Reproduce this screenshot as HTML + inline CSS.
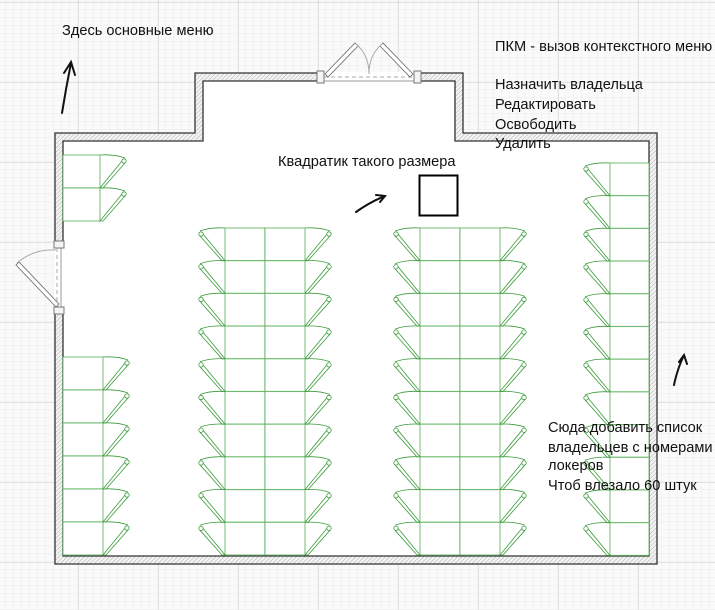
<!DOCTYPE html>
<html><head><meta charset="utf-8"><style>
html,body{margin:0;padding:0;background:#fff}
svg{display:block}
text{font-family:"Liberation Sans","DejaVu Sans",sans-serif;font-size:14.6px;fill:#111}
</style></head><body>
<svg id="plan" width="715" height="610" viewBox="0 0 715 610" xmlns="http://www.w3.org/2000/svg">
<defs>
<pattern id="minor" width="8" height="8" patternUnits="userSpaceOnUse" x="6" y="2"><path d="M8 0V8M0 8H8" stroke="#ececec" stroke-width="1" fill="none"/></pattern>
<pattern id="major" width="80" height="80" patternUnits="userSpaceOnUse" x="78" y="2"><path d="M0 0V80M0 0H80" stroke="#dadada" stroke-width="1.5" fill="none"/></pattern>
<pattern id="hatch" width="3" height="3" patternUnits="userSpaceOnUse" patternTransform="rotate(45)"><rect width="3" height="3" fill="#f4f4f4"/><path d="M0 0V3" stroke="#a5a5a5" stroke-width="0.9"/></pattern>
</defs>
<rect width="715" height="610" fill="#fafafa"/>
<rect width="715" height="610" fill="url(#minor)"/>
<rect width="715" height="610" fill="url(#major)"/>
<path d="M63 141H203V81H455V141H649V556H63Z" fill="#fff"/>
<path fill-rule="evenodd" fill="url(#hatch)" stroke="#333" stroke-width="1.3"
 d="M55 133H195V73H463V133H657V564H55Z M63 141H203V81H455V141H649V556H63Z"/>
<g id="lockers"></g>
<g>
<rect x="322" y="72" width="94" height="11" fill="#fff"/>
<line x1="324" y1="77" x2="414" y2="77" stroke="#aaa" stroke-dasharray="4 3"/>
<line x1="324" y1="81" x2="414" y2="81" stroke="#999"/>
<rect x="317" y="71" width="7" height="12" fill="#f4f4f4" stroke="#777"/>
<rect x="414" y="71" width="7" height="12" fill="#f4f4f4" stroke="#777"/>
<path d="M325 74L355 43L358 46L328 77Z" fill="#fff" stroke="#666" stroke-width="0.8"/>
<path d="M413 74L383 43L380 46L410 77Z" fill="#fff" stroke="#666" stroke-width="0.8"/>
<path d="M356 44Q369 55 369 74" fill="none" stroke="#aaa"/>
<path d="M382 44Q369 55 369 74" fill="none" stroke="#aaa"/>
</g>
<g>
<rect x="54" y="246" width="10" height="64" fill="#fff"/>
<line x1="57" y1="248" x2="57" y2="308" stroke="#aaa" stroke-dasharray="4 3"/>
<line x1="61" y1="248" x2="61" y2="308" stroke="#999"/>
<rect x="54" y="241" width="10" height="7" fill="#f4f4f4" stroke="#777"/>
<rect x="54" y="307" width="10" height="7" fill="#f4f4f4" stroke="#777"/>
<path d="M56 307L16 265L19 262L59 304Z" fill="#fff" stroke="#666" stroke-width="0.8"/>
<path d="M17 263Q33 249 56 250" fill="none" stroke="#aaa"/>
</g>
<rect x="419.5" y="175.5" width="38" height="40" fill="#fff" stroke="#000" stroke-width="2"/>
<g fill="none" stroke="#111" stroke-width="2" stroke-linecap="round">
<path d="M62 113Q66 88 71 63M64 73L71 62L75 75"/>
<path d="M356 212Q370 202 385 196M376 195L385 196L380 202"/>
<path d="M674 385Q677 370 684 355M679 362L684 355L687 364"/>
</g>
<text x="62" y="35">Здесь основные меню</text>
<text x="495" y="51">ПКМ - вызов контекстного меню</text>
<text x="495" y="89">Назначить владельца</text>
<text x="495" y="109">Редактировать</text>
<text x="495" y="129">Освободить</text>
<text x="495" y="148">Удалить</text>
<text x="278" y="166">Квадратик такого размера</text>
<text x="548" y="432">Сюда добавить список</text>
<text x="548" y="452">владельцев с номерами</text>
<text x="548" y="470">локеров</text>
<text x="548" y="490">Чтоб влезало 60 штук</text>
</svg>
<script>
const groupX = [63, 63, 225, 420, 610];
const groupW = [37, 40, 40, 40, 39];
const groupCols = [1, 1, 2, 2, 1];
const groupTop = [155, 357, 228, 228, 163];
const groupRows = [2, 6, 10, 10, 12];
const groupRowH = [33, 33, 32.7, 32.7, 32.7];
const groupDoorL = [false, false, true, true, true];
const groupDoorR = [true, true, true, true, false];
const NS = 'http://www.w3.org/2000/svg';
const g = document.getElementById('lockers');
function mk(tag, attrs, parent) {
  const e = document.createElementNS(NS, tag);
  for (const k in attrs) e.setAttribute(k, attrs[k]);
  parent.appendChild(e); return e;
}
function door(x, y, y2, dir, parent) {
  const tipX = x + dir * 22, tipY = y + 6;
  mk('path', {d: `M${x} ${y2}L${tipX} ${tipY}L${tipX + dir*3} ${tipY + 2}L${x + dir*3} ${y2}Z`, fill: '#fff', stroke: '#3a9a3a', 'stroke-width': 0.8}, parent);
  mk('circle', {cx: tipX + dir*2, cy: tipY, r: 2.2, fill: '#fff', stroke: '#3a9a3a', 'stroke-width': 0.8}, parent);
  mk('path', {d: `M${x} ${y}Q${x + dir*14} ${y - 1} ${x + dir*25} ${y + 3}`, fill: 'none', stroke: '#3a9a3a', 'stroke-width': 0.8}, parent);
}
for (let i = 0; i < groupX.length; i++) {
  const grp = mk('g', {}, g);
  
  
  const w = groupW[i] * groupCols[i];
  for (let r = 0; r < groupRows[i]; r++) {
    const y = groupTop[i] + r * groupRowH[i], y2 = y + groupRowH[i];
    for (let c = 0; c < groupCols[i]; c++) {
      const box = mk('rect', {x: groupX[i] + c * groupW[i], y: y, width: groupW[i], height: groupRowH[i], fill: '#fff', stroke: '#4caa4c', 'stroke-width': 1.1, 'stroke-opacity': 0.7}, grp);
      
      
    }
    if (groupDoorL[i]) door(groupX[i], y, y2, -1, grp);
    if (groupDoorR[i]) door(groupX[i] + w, y, y2, 1, grp);
  }
}
</script>
</body></html>
